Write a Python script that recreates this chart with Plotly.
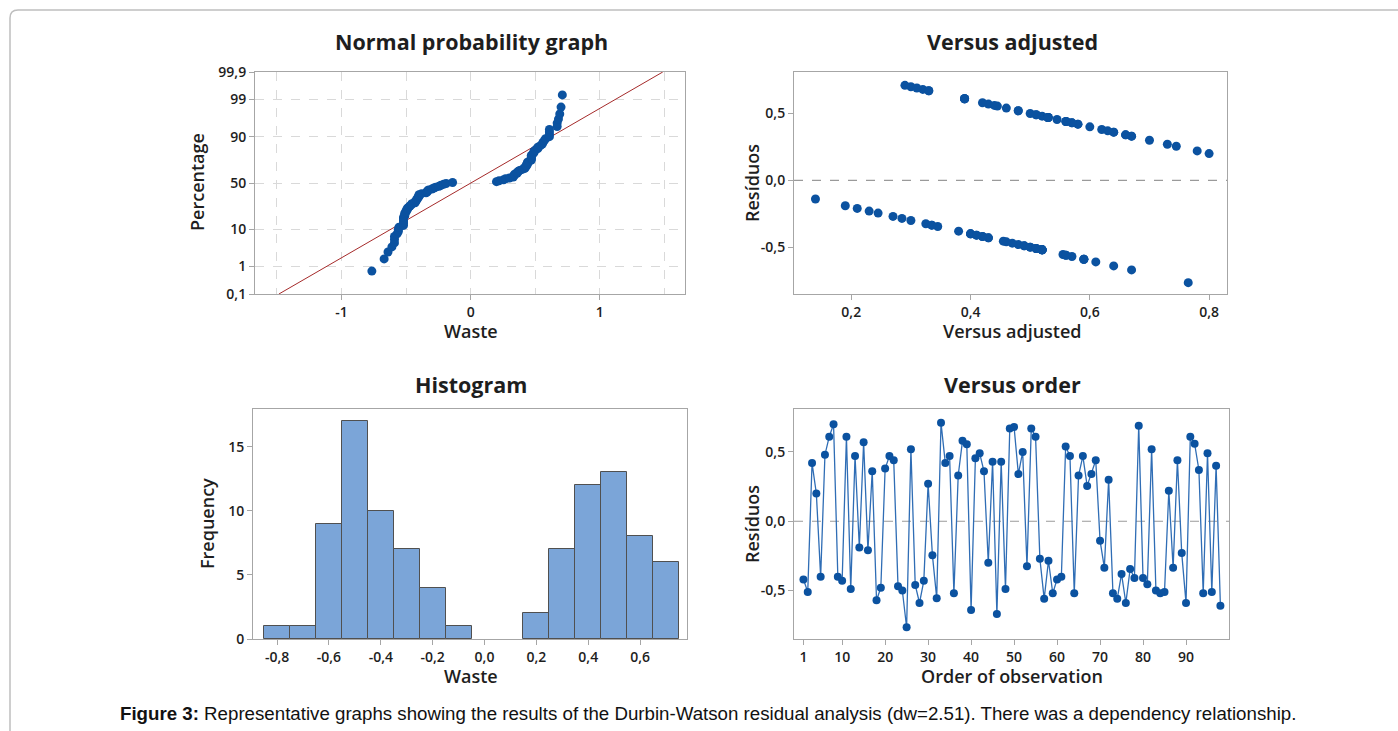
import plotly.graph_objects as go
from statistics import NormalDist

W, H = 1398, 731

# ---------------- data ----------------
residuals = [
    -0.42, -0.51, 0.42, 0.20, -0.40, 0.48, 0.61, 0.70, -0.40, -0.43,
    0.61, -0.49, 0.47, -0.19, 0.57, -0.21, 0.36, -0.57, -0.48, 0.38,
    0.47, 0.44, -0.47, -0.50, -0.765, 0.52, -0.46, -0.59, -0.43, 0.27,
    -0.245, -0.555, 0.71, 0.42, 0.47, -0.52, 0.33, 0.58, 0.555, -0.64,
    0.455, 0.49, 0.36, -0.30, 0.43, -0.67, 0.43, -0.49, 0.67, 0.68,
    0.34, 0.50, -0.325, 0.67, 0.61, -0.27, -0.56, -0.285, -0.52, -0.42,
    -0.40, 0.54, 0.47, -0.52, 0.33, 0.47, 0.255, 0.34, 0.44, -0.14,
    -0.335, 0.30, -0.52, -0.56, -0.38, -0.59, -0.345, -0.41, 0.69, -0.41,
    -0.455, 0.52, -0.50, -0.52, -0.51, 0.22, -0.335, 0.44, -0.23, -0.59,
    0.61, 0.56, 0.37, -0.52, 0.49, -0.51, 0.40, -0.61,
]
fitted = [
    0.42, 0.51, 0.58, 0.80, 0.40, 0.52, 0.39, 0.30, 0.40, 0.43,
    0.39, 0.49, 0.53, 0.19, 0.43, 0.21, 0.64, 0.57, 0.48, 0.62,
    0.53, 0.56, 0.47, 0.50, 0.765, 0.48, 0.46, 0.59, 0.43, 0.73,
    0.245, 0.555, 0.29, 0.58, 0.53, 0.52, 0.67, 0.42, 0.445, 0.64,
    0.545, 0.51, 0.64, 0.30, 0.57, 0.67, 0.57, 0.49, 0.33, 0.32,
    0.66, 0.50, 0.325, 0.33, 0.39, 0.27, 0.56, 0.285, 0.52, 0.42,
    0.40, 0.46, 0.53, 0.52, 0.67, 0.53, 0.745, 0.66, 0.56, 0.14,
    0.335, 0.70, 0.52, 0.56, 0.38, 0.59, 0.345, 0.41, 0.31, 0.41,
    0.455, 0.48, 0.50, 0.52, 0.51, 0.78, 0.335, 0.56, 0.23, 0.59,
    0.39, 0.44, 0.63, 0.52, 0.51, 0.51, 0.60, 0.61,
]
order = list(range(1, len(residuals) + 1))

prob_ticks = [0.1, 1, 10, 50, 90, 99, 99.9]
prob_labels = ["0,1", "1", "10", "50", "90", "99", "99,9"]
np_x_ticks = [-1, 0, 1]
np_x_labels = ["-1", "0", "1"]
fit_x_ticks = [0.2, 0.4, 0.6, 0.8]
fit_x_labels = ["0,2", "0,4", "0,6", "0,8"]
res_y_ticks = [-0.5, 0.0, 0.5]
res_y_labels = ["-0,5", "0,0", "0,5"]
hist_x_ticks = [-0.8, -0.6, -0.4, -0.2, 0.0, 0.2, 0.4, 0.6]
hist_x_labels = ["-0,8", "-0,6", "-0,4", "-0,2", "0,0", "0,2", "0,4", "0,6"]
hist_y_ticks = [0, 5, 10, 15]
order_ticks = [1, 10, 20, 30, 40, 50, 60, 70, 80, 90]

# ---------------- derived (normal probability scale) ----------------
nd = NormalDist()
N = len(residuals)
sorted_res = sorted(residuals)
z_pts = [nd.inv_cdf((i + 1 - 0.3) / (N + 0.4)) for i in range(N)]
mean = sum(residuals) / N
sd = (sum((r - mean) ** 2 for r in residuals) / (N - 1)) ** 0.5
z_lo, z_hi = nd.inv_cdf(0.001), nd.inv_cdf(0.999)

BLUE = "#0B52A0"
FONT = "Open Sans"
TXT = "#1e1e1e"
AX = "#A6A6A6"

def px_x(v):
    return v / W

def px_y(v):
    return 1 - v / H

fig = go.Figure()

fig.add_trace(go.Scatter(x=[mean + sd * z_lo, mean + sd * z_hi], y=[z_lo, z_hi],
                         mode="lines", line=dict(color="#A52A2A", width=1),
                         xaxis="x", yaxis="y", showlegend=False))
fig.add_trace(go.Scatter(x=sorted_res, y=z_pts, mode="markers",
                         marker=dict(color=BLUE, size=9),
                         xaxis="x", yaxis="y", showlegend=False))
fig.add_trace(go.Scatter(x=fitted, y=residuals, mode="markers",
                         marker=dict(color=BLUE, size=9),
                         xaxis="x2", yaxis="y2", showlegend=False))
fig.add_trace(go.Histogram(x=residuals, xbins=dict(start=-0.85, end=0.75, size=0.1),
                           marker=dict(color="#7BA5D8", line=dict(color="#505050", width=1)),
                           xaxis="x3", yaxis="y3", showlegend=False))
fig.add_trace(go.Scatter(x=order, y=residuals, mode="lines+markers",
                         line=dict(color="#2F6DB5", width=1.3),
                         marker=dict(color=BLUE, size=8),
                         xaxis="x4", yaxis="y4", showlegend=False))

base = dict(showline=True, linecolor=AX, linewidth=1, mirror=True,
            ticks="outside", ticklen=5, tickcolor=AX,
            tickfont=dict(family=FONT, size=14, color=TXT, weight=600),
            zeroline=False, showgrid=False, automargin=False)

fig.update_layout(
    width=W, height=H, autosize=False, margin=dict(l=0, r=0, t=0, b=0, pad=0),
    paper_bgcolor="white", plot_bgcolor="white", bargap=0, showlegend=False,
    xaxis=dict(base, domain=[px_x(255), px_x(685)], anchor="y",
               range=[-1.67, 1.66], tickvals=np_x_ticks, ticktext=np_x_labels,
               showgrid=True, gridcolor="#D9D9D9", griddash="dash",
               minor=dict(dtick=0.5, tick0=0, showgrid=True, gridcolor="#D9D9D9",
                          griddash="dash", ticks="")),
    yaxis=dict(base, domain=[px_y(294), px_y(72)], anchor="x",
               range=[z_lo, z_hi], tickvals=[nd.inv_cdf(p / 100) for p in prob_ticks],
               ticktext=prob_labels, showgrid=True, gridcolor="#D9D9D9", griddash="dash"),
    xaxis2=dict(base, domain=[px_x(794), px_x(1227)], anchor="y2",
                range=[0.104, 0.83], tickvals=fit_x_ticks, ticktext=fit_x_labels),
    yaxis2=dict(base, domain=[px_y(294), px_y(72)], anchor="x2",
                range=[-0.85, 0.81], tickvals=res_y_ticks, ticktext=res_y_labels),
    xaxis3=dict(base, domain=[px_x(253), px_x(687)], anchor="y3",
                range=[-0.893, 0.781], tickvals=hist_x_ticks, ticktext=hist_x_labels),
    yaxis3=dict(base, domain=[px_y(639), px_y(409)], anchor="x3",
                range=[0, 17.95], tickvals=hist_y_ticks),
    xaxis4=dict(base, domain=[px_x(794), px_x(1229)], anchor="y4",
                range=[-1.2, 100], tickvals=order_ticks),
    yaxis4=dict(base, domain=[px_y(639), px_y(409)], anchor="x4",
                range=[-0.85, 0.81], tickvals=res_y_ticks, ticktext=res_y_labels),
)

shapes = []
for xr, yr in (("x2", "y2"), ("x4", "y4")):
    shapes.append(dict(type="line", xref=xr + " domain", yref=yr, x0=0, x1=1, y0=0, y1=0,
                       line=dict(color="#9A9A9A", width=1.2, dash="dash"), layer="below"))
x0, yt, r = 10, 10, 8
path = (f"M {px_x(x0)},{px_y(H)} L {px_x(x0)},{px_y(yt + r)} "
        f"Q {px_x(x0)},{px_y(yt)} {px_x(x0 + r)},{px_y(yt)} L {px_x(W)},{px_y(yt)}")
shapes.append(dict(type="path", xref="paper", yref="paper", path=path,
                   line=dict(color="#BEBEBE", width=1.5)))
fig.update_layout(shapes=shapes)

def ann(text, x, y, size, angle=0, family=FONT, color=TXT, weight="normal"):
    return dict(text=text, x=px_x(x), y=px_y(y), xref="paper", yref="paper",
                showarrow=False, textangle=angle, xanchor="center", yanchor="middle",
                font=dict(family=family, size=size, color=color, weight=weight))

anns = [
    ann("<b>Normal probability graph</b>", 471, 41, 21.5),
    ann("<b>Versus adjusted</b>", 1012, 41, 21.5),
    ann("<b>Histogram</b>", 471, 384, 21.5),
    ann("<b>Versus order</b>", 1012, 384, 21.5),
    ann("Waste", 471, 331, 18, weight=600),
    ann("Versus adjusted", 1012, 331, 18, weight=600),
    ann("Waste", 471, 676, 18, weight=600),
    ann("Order of observation", 1012, 676, 18, weight=600),
    ann("Percentage", 197, 182, 18, -90, weight=600),
    ann("Resíduos", 752, 183, 18, -90, weight=600),
    ann("Frequency", 207, 524, 18, -90, weight=600),
    ann("Resíduos", 752, 524, 18, -90, weight=600),
    ann("<b>Figure 3:</b> Representative graphs showing the results of the Durbin-Watson "
        "residual analysis (dw=2.51). There was a dependency relationship.",
        708, 713, 18.7, family="Liberation Sans", color="#111111"),
]
fig.update_layout(annotations=anns)

fig.write_html("out.html")
